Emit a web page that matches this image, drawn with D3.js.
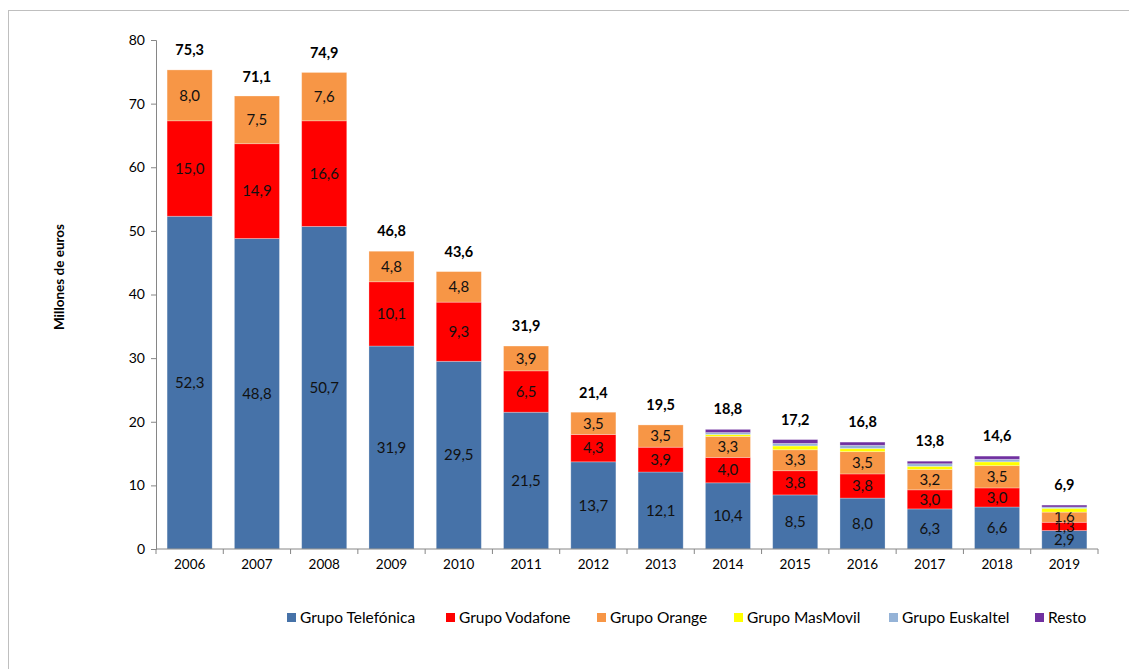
<!DOCTYPE html>
<html>
<head>
<meta charset="utf-8">
<script src="https://cdn.jsdelivr.net/npm/d3@7/dist/d3.min.js"></script>
<style>
  html, body { margin: 0; padding: 0; background: #fff; }
  svg { display: block; font-family: "Lato", "Open Sans", sans-serif; }
</style>
</head>
<body>
<div id="chart"></div>
<script>
// --- Données ---
const years = ["2006","2007","2008","2009","2010","2011","2012","2013","2014","2015","2016","2017","2018","2019"];
const telefonica = [52.3, 48.8, 50.7, 31.9, 29.5, 21.5, 13.7, 12.1, 10.4, 8.5, 8.0, 6.3, 6.6, 2.9];
const vodafone   = [15.0, 14.9, 16.6, 10.1, 9.3, 6.5, 4.3, 3.9, 4.0, 3.8, 3.8, 3.0, 3.0, 1.3];
const orange     = [8.0, 7.5, 7.6, 4.8, 4.8, 3.9, 3.5, 3.5, 3.3, 3.3, 3.5, 3.2, 3.5, 1.6];
const masmovil   = [0, 0, 0, 0, 0, 0, 0, 0, 0.3, 0.6, 0.5, 0.5, 0.6, 0.6];
const euskaltel  = [0, 0, 0, 0, 0, 0, 0, 0, 0.3, 0.4, 0.5, 0.4, 0.4, 0.2];
const resto      = [0, 0, 0, 0, 0, 0, 0, 0, 0.5, 0.6, 0.5, 0.4, 0.5, 0.3];
const totals     = [75.3, 71.1, 74.9, 46.8, 43.6, 31.9, 21.4, 19.5, 18.8, 17.2, 16.8, 13.8, 14.6, 6.9];
const yTicks = [0, 10, 20, 30, 40, 50, 60, 70, 80];

const series = [
  { key: "tel",  name: "Grupo Telefónica", values: telefonica, color: "#4672A8", label: true },
  { key: "voda", name: "Grupo Vodafone",   values: vodafone,   color: "#FF0000", label: true },
  { key: "ora",  name: "Grupo Orange",     values: orange,     color: "#F79646", label: true },
  { key: "mas",  name: "Grupo MasMovil",   values: masmovil,   color: "#FFFF00", label: false },
  { key: "eus",  name: "Grupo Euskaltel",  values: euskaltel,  color: "#95B3D7", label: false },
  { key: "rest", name: "Resto",            values: resto,      color: "#7030A0", label: false }
];

const W = 1129, H = 669;
const margin = { top: 40, right: 31, bottom: 120, left: 156 };
const width = W - margin.left - margin.right;
const height = H - margin.top - margin.bottom;

const svg = d3.select("#chart").append("svg").attr("width", W).attr("height", H);

// cadre
svg.append("rect").attr("x", 8.5).attr("y", 10.5).attr("width", W + 20).attr("height", H + 20)
  .attr("fill", "none").attr("stroke", "#bfbfbf").attr("stroke-width", 1);

const g = svg.append("g").attr("transform", `translate(${margin.left},${margin.top})`);

const x = d3.scaleBand().domain(years).range([0, width]).paddingInner(0.33).paddingOuter(0.165);
const y = d3.scaleLinear().domain([0, 80]).range([height, 0]);

// table empilée
const table = years.map((yr, i) => {
  const row = { year: yr };
  series.forEach(s => row[s.key] = s.values[i]);
  return row;
});
const stacked = d3.stack().keys(series.map(s => s.key))(table);

// barres
stacked.forEach((layer, li) => {
  const s = series[li];
  const grp = g.append("g");
  grp.selectAll("rect").data(layer).join("rect")
    .attr("x", d => x(d.data.year))
    .attr("y", d => y(d[1]))
    .attr("width", x.bandwidth())
    .attr("height", d => Math.max(0, y(d[0]) - y(d[1])))
    .attr("fill", s.color)
    .attr("stroke", d => (d[1] - d[0]) > 0 ? "rgba(255,255,255,0.35)" : "none")
    .attr("stroke-width", 0.8);
  if (s.label) {
    grp.selectAll("text").data(layer).join("text")
      .attr("x", d => x(d.data.year) + x.bandwidth() / 2)
      .attr("y", d => (y(d[0]) + y(d[1])) / 2)
      .attr("dy", "0.35em")
      .attr("text-anchor", "middle")
      .style("font-size", "15px")
      .style("fill", "#111")
      .text(d => (d[1] - d[0]).toFixed(1).replace(".", ","));
  }
});

// totaux
g.selectAll(".total").data(years).join("text")
  .attr("class", "total")
  .attr("x", d => x(d) + x.bandwidth() / 2)
  .attr("y", (d, i) => y(totals[i]) - 20)
  .attr("dy", "0.35em")
  .attr("text-anchor", "middle")
  .style("font-size", "14.5px")
  .style("font-weight", "bold")
  .style("fill", "#000")
  .text((d, i) => totals[i].toFixed(1).replace(".", ","));

// axe Y
const yAxis = g.append("g").call(d3.axisLeft(y).tickValues(yTicks).tickSize(5).tickPadding(6));
yAxis.selectAll("path, line").attr("stroke", "#868686");
yAxis.selectAll("text").style("font-size", "14px").style("fill", "#000").style("font-family", "Lato, sans-serif");

// axe X
const xAxisG = g.append("g").attr("transform", `translate(0,${height})`);
xAxisG.append("line").attr("x1", 0).attr("x2", width).attr("stroke", "#868686");
const step = x.step();
xAxisG.selectAll(".xt").data(d3.range(years.length + 1)).join("line")
  .attr("x1", i => i * step).attr("x2", i => i * step)
  .attr("y1", 0).attr("y2", 5).attr("stroke", "#868686");
xAxisG.selectAll(".xl").data(years).join("text")
  .attr("x", d => x(d) + x.bandwidth() / 2)
  .attr("y", 20)
  .attr("text-anchor", "middle")
  .style("font-size", "13.5px")
  .style("fill", "#000")
  .text(d => d);

// titre axe Y
svg.append("text")
  .attr("transform", `translate(64,277) rotate(-90)`)
  .attr("text-anchor", "middle")
  .style("font-size", "13.5px")
  .style("font-weight", "bold")
  .text("Millones de euros");

// légende
const legendX = [287, 446, 597, 734, 889, 1035];
const legend = svg.append("g").attr("transform", "translate(0,618)");
series.forEach((s, i) => {
  const item = legend.append("g").attr("transform", `translate(${legendX[i]},0)`);
  item.append("rect").attr("x", 0).attr("y", -5).attr("width", 9).attr("height", 9).attr("fill", s.color);
  item.append("text").attr("x", 13).attr("y", 0).attr("dy", "0.35em")
    .style("font-size", "15.5px").text(s.name);
});
</script>
</body>
</html>
